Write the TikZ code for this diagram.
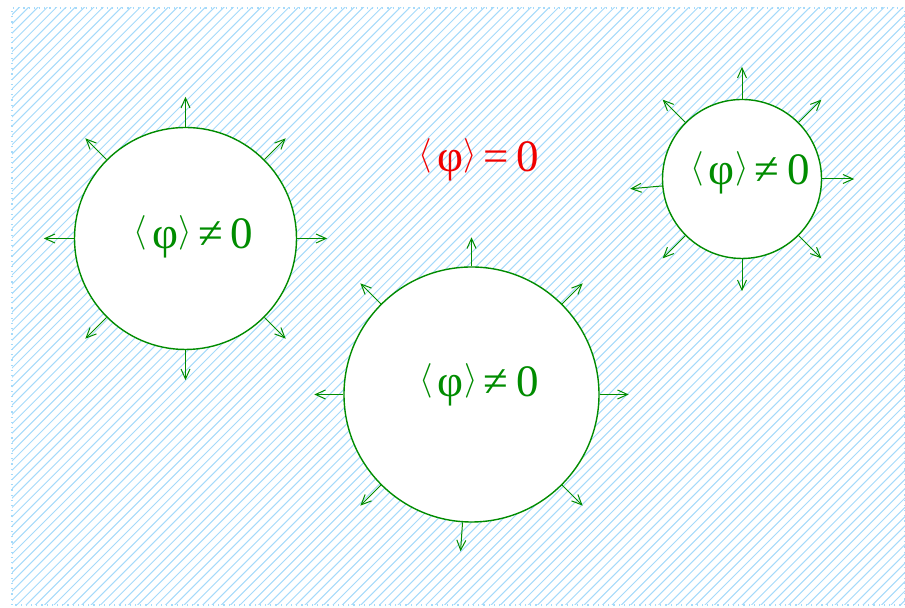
\documentclass[tikz,border=0pt]{standalone}
\usepackage{fontspec}
\setmainfont{Liberation Serif}
\usetikzlibrary{arrows.meta}
\definecolor{fgreen}{RGB}{0,140,0}
\definecolor{hatch}{RGB}{165,218,250}
\definecolor{fred}{RGB}{240,0,0}
\newcommand{\angl}[1]{\raisebox{3.2pt}{\fontsize{19}{20}\selectfont$#1$}}
\newcommand{\phival}[1]{{\fontsize{22.5}{24}\selectfont\angl{\langle}\kern2.5ptφ\kern0.3pt\angl{\rangle}\kern3pt#1\kern4pt0}}
\begin{document}
\begin{tikzpicture}[x=0.5pt,y=0.5pt,
  bubble/.style={circle,draw=fgreen,fill=white,line width=0.7pt,inner sep=0pt},
  arr/.style={draw=fgreen,line width=0.5pt,-{Straight Barb[length=5pt,width=4.5pt]}},
  lbl/.style={inner sep=0pt,text=fgreen}]
\useasboundingbox (0,0) rectangle (905,608);
% hatched background
\begin{scope}
\clip (12,3) rectangle (905,600);
\foreach \i in {-600,-590.7,...,905} {
  \draw[hatch,line width=0.5pt] (\i,0) -- ++(610,610);
}
\end{scope}
\draw[hatch,line width=0.6pt,dotted] (12,3) rectangle (904.5,600);
% bubbles
\node[bubble,minimum size=111pt] (c1) at (185.5,369.5) {};
\node[bubble,minimum size=127.5pt] (c2) at (471.5,213.5) {};
\node[bubble,minimum size=79.5pt] (c3) at (742,429) {};
\foreach \a in {0,45,...,315} {
  \draw[arr] (c1.\a) -- ++(\a:30);
}
\foreach \a in {0,45,90,135,180,225,315} {
  \draw[arr] (c2.\a) -- ++(\a:29);
}
\draw[arr] (c2.266) -- ++(266:29);
\foreach \a in {0,45,90,135,225,270,315} {
  \draw[arr] (c3.\a) -- ++(\a:32);
}
\draw[arr] (c3.185) -- ++(185:32);
% labels
\node[lbl] (t1) at (193.5,371) {\phival{≠}};
\node[lbl] (t2) at (479,223) {\phival{≠}};
\node[lbl] (t3) at (750,435) {\phival{≠}};
\node[lbl,text=fred] (t0) at (479,448) {\phival{=}};
\end{tikzpicture}
\end{document}
